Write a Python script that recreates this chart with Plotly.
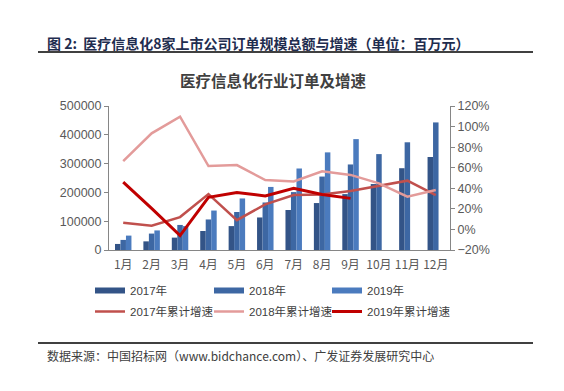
import plotly.graph_objects as go

months = ["1月", "2月", "3月", "4月", "5月", "6月", "7月", "8月", "9月", "10月", "11月", "12月"]
orders_2017 = [21000, 30000, 43000, 66000, 83000, 113000, 139000, 163000, 194000, 229000, 284000, 323000]
orders_2018 = [35000, 57000, 87000, 106000, 132000, 165000, 201000, 255000, 297000, 333000, 374000, 443000]
orders_2019 = [50000, 68000, 83000, 137000, 179000, 219000, 283000, 339000, 385000, None, None, None]
growth_2017 = [6.5, 3.6, 12.0, 34.4, 9.0, 24.4, 33.4, 34.0, 37.3, 42.5, 47.4, 33.4]
growth_2018 = [66.5, 93.4, 109.6, 61.6, 62.6, 48.0, 46.7, 56.5, 53.0, 44.8, 31.8, 38.3]
growth_2019 = [46.0, 20.5, -6.0, 31.2, 36.0, 32.5, 40.0, 34.0, 30.2, None, None, None]

bar_names = ["2017年", "2018年", "2019年"]
line_names = ["2017年累计增速", "2018年累计增速", "2019年累计增速"]
bar_colors = ["#335487", "#3D67A3", "#4B7BBE"]
line_colors = ["#C0504D", "#E39B9A", "#C00000"]
line_widths = [2.5, 2.5, 3]

# page is rendered with an 8px body margin
OFF = 8
W, H = 564 - OFF, 391 - OFF
# plot area in page coordinates
L, R, T, B = 109, 450, 106, 250

def px(x):
    return (x - L) / (R - L)

def py(y):
    return (B - y) / (B - T)

FONT = "Liberation Sans, Arial, Noto Sans CJK SC, sans-serif"
CJK = "Noto Sans CJK SC, Liberation Sans, sans-serif"

legend_ids = ["legend", "legend2", "legend3"]

fig = go.Figure()

for name, vals, c, lg in zip(bar_names, [orders_2017, orders_2018, orders_2019], bar_colors, legend_ids):
    fig.add_trace(go.Bar(x=months, y=vals, name=name, marker=dict(color=c, line=dict(width=0)),
                         showlegend=False))
    # legend entry for the bar series
    fig.add_trace(go.Scatter(x=[None], y=[None], mode="lines", name=name, legend=lg,
                             legendgroup=name, legendrank=1,
                             line=dict(color=c, width=6), showlegend=True))

for name, vals, c, w, lg in zip(line_names, [growth_2017, growth_2018, growth_2019], line_colors,
                                line_widths, legend_ids):
    fig.add_trace(go.Scatter(x=months, y=vals, name=name, mode="lines", yaxis="y2", legend=lg,
                             legendgroup=name, legendrank=2,
                             line=dict(color=c, width=w)))

def leg(xpage):
    return dict(orientation="v", x=px(xpage), xanchor="left", y=py(276), yanchor="top",
                tracegroupgap=2, traceorder="grouped",
                font=dict(size=11.5, color="#404040", family=FONT), bgcolor="rgba(0,0,0,0)")

fig.update_layout(
    width=W, height=H,
    margin=dict(l=L - OFF, r=W - (R - OFF), t=T - OFF, b=H - (B - OFF), pad=0, autoexpand=False),
    paper_bgcolor="white", plot_bgcolor="white",
    font=dict(family=FONT, size=12, color="#595959"),
    barmode="group", bargap=0.42, bargroupgap=0,
    showlegend=True,
    legend=leg(90), legend2=leg(209), legend3=leg(327),
    xaxis=dict(type="category", showline=True, linecolor="#868686", linewidth=1,
               ticks="outside", ticklen=4, tickcolor="rgba(0,0,0,0)", showgrid=False,
               tickfont=dict(size=12, color="#595959", family=CJK)),
    yaxis=dict(range=[0, 500000], dtick=100000, tickformat="d", showline=True, linecolor="#868686",
               linewidth=1, ticks="outside", ticklen=4, tickcolor="#868686", showgrid=False,
               zeroline=False, tickfont=dict(size=12.5, color="#595959")),
    yaxis2=dict(range=[-20, 120], dtick=20, ticksuffix="%", overlaying="y", side="right",
                showline=True, linecolor="#868686", linewidth=1, ticks="outside", ticklen=4,
                tickcolor="#868686", showgrid=False, zeroline=False,
                tickfont=dict(size=12.5, color="#595959")),
)

annotations = [
    dict(text="<b>图 2:&nbsp;&nbsp;医疗信息化8家上市公司订单规模总额与增速（单位：百万元）</b>",
         x=px(45), y=py(43), xanchor="left", yanchor="middle",
         font=dict(size=14, color="#1F2D4F", family=CJK)),
    dict(text="<b>医疗信息化行业订单及增速</b>", x=px(273), y=py(80), xanchor="center", yanchor="middle",
         font=dict(size=15.5, color="#404040", family=CJK)),
    dict(text="数据来源：中国招标网（www.bidchance.com）、广发证券发展研究中心",
         x=px(45), y=py(355), xanchor="left", yanchor="middle",
         font=dict(size=12, color="#404040", family=CJK)),
]
for a in annotations:
    a.update(xref="paper", yref="paper", showarrow=False)
fig.update_layout(annotations=annotations)

fig.update_layout(shapes=[
    dict(type="line", xref="paper", yref="paper", x0=px(38), x1=px(533), y0=py(52), y1=py(52),
         line=dict(color="black", width=1.5)),
    dict(type="line", xref="paper", yref="paper", x0=px(38), x1=px(533), y0=py(343), y1=py(343),
         line=dict(color="black", width=1.5)),
])

fig.write_html("out.html")
